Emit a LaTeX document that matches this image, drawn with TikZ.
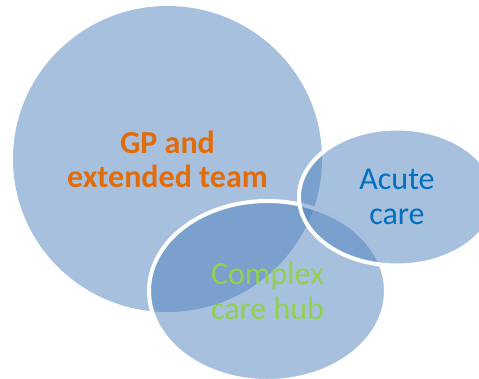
\documentclass[tikz,border=0pt]{standalone}
\usepackage{fontspec}
\setmainfont{Carlito}
\usepackage{tikz}
\usetikzlibrary{shapes.geometric}
\definecolor{ovBlue}{HTML}{4F81BD}
\definecolor{gpOrange}{HTML}{E36C0A}
\definecolor{acBlue}{HTML}{0070C0}
\definecolor{cxGreen}{HTML}{92D050}

\begin{document}
\begin{tikzpicture}[x=1pt,y=-1pt,blob/.style={ellipse,inner sep=0pt,fill=ovBlue,fill opacity=0.5,text opacity=1,align=center,font=\fontsize{32}{35}\selectfont},rim/.style={draw=white,line width=4pt,draw opacity=1}]
    \clip (0,0) rectangle (479,378);
    \node[blob,minimum width=309pt,minimum height=306pt,text=gpOrange,font=\bfseries\fontsize{32}{34}\selectfont] (gp) at (167.5,159) {GP and\\extended team};
    \node[blob,rim,minimum width=237pt,minimum height=180pt,text=cxGreen] (hub) at (267.5,291) {Complex\\care hub};
    \node[blob,rim,minimum width=196pt,minimum height=137pt,text=acBlue] (acute) at (397,197) {Acute\\care};
  \end{tikzpicture}
\end{document}
